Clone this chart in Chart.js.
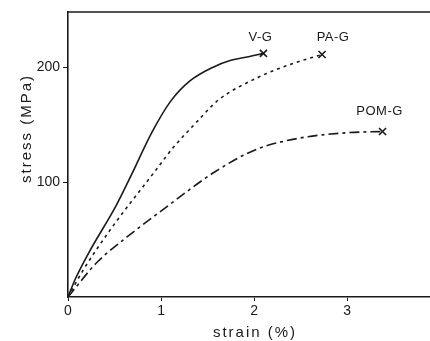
<!DOCTYPE html>
<html>
<head>
<meta charset="utf-8">
<script src="https://cdn.jsdelivr.net/npm/chart.js@4/dist/chart.umd.min.js"></script>
<style>
html,body{margin:0;padding:0;background:#fff}
#wrap{width:430px;height:341px}
</style>
</head>
<body>
<div id="wrap"><canvas id="c" width="430" height="341"></canvas></div>
<script>
// strain (%) / stress (MPa)
let vgStrain=[0,0.075,0.22,0.52,0.68,0.9,1.1,1.31,1.56,1.75,1.94,2.1]
let vgStress=[0,15,38,80,106,143,170,188,200,206,209,212]

let paStrain=[0,0.16,0.45,0.94,1.13,1.38,1.61,2.04,2.41,2.73]
let paStress=[0,23,58,110,130,152,171,191,203,211]

let pomStrain=[0,0.31,0.63,1.02,1.58,2.01,2.47,3.01,3.38]
let pomStress=[0,30,52,76,109,128,138,143,144]

let seriesNames=["V-G","PA-G","POM-G"]
let xTicks=[0,1,2,3]
let yTicks=[100,200]
let xTitle="strain (%)"
let yTitle="stress (MPa)"

let ink="#1a1a1a"
let font="'Liberation Sans', Arial, sans-serif"

function pts(xs,ys){
return xs.map((x,i)=>({x:x,y:ys[i]}))
}

function endMark(ctx){
return ctx.dataIndex===ctx.dataset.data.length-1 ? 5 : 0
}

function makeSet(name,xs,ys,dash){
return {
label:name,
data:pts(xs,ys),
borderColor:ink,
borderWidth:1.6,
borderDash:dash,
cubicInterpolationMode:"monotone",
pointStyle:"crossRot",
pointRadius:endMark,
pointHoverRadius:endMark,
pointBorderColor:ink,
pointBorderWidth:1.6,
fill:false
}
}

// label offsets (px) from each curve's end point
let labelDx=[-3,11,-3]
let labelDy=[-16,-17,-20]

let extras={
id:"extras",
// the frame runs off the right edge of the page in the scan
afterLayout(chart){
let x=chart.scales.x
x.right=chart.width
x.width=x.right-x.left
x.configure()
chart.chartArea.right=chart.width
chart.chartArea.width=chart.width-chart.chartArea.left
},
afterDatasetsDraw(chart){
let c=chart.ctx
let a=chart.chartArea
c.save()
// top frame line
c.strokeStyle=ink
c.lineWidth=1.6
c.beginPath()
c.moveTo(a.left,a.top)
c.lineTo(a.right,a.top)
c.stroke()
// curve names
c.fillStyle=ink
c.font="13px "+font
c.textAlign="center"
c.textBaseline="middle"
c.letterSpacing="0.5px"
chart.data.datasets.forEach((ds,i)=>{
let last=ds.data[ds.data.length-1]
let px=chart.scales.x.getPixelForValue(last.x)
let py=chart.scales.y.getPixelForValue(last.y)
c.fillText(seriesNames[i],px+labelDx[i],py+labelDy[i])
})
// axis titles, letter spaced like the print
c.font="15px "+font
c.letterSpacing="2px"
c.fillText(xTitle,(a.left+a.right)/2+6,333)
c.translate(27,(a.top+a.bottom)/2-26)
c.rotate(-Math.PI/2)
c.fillText(yTitle,0,0)
c.restore()
}
}

new Chart(document.getElementById("c"),{
type:"line",
data:{
datasets:[
makeSet(seriesNames[0],vgStrain,vgStress,[]),
makeSet(seriesNames[1],paStrain,paStress,[3,4]),
makeSet(seriesNames[2],pomStrain,pomStress,[10,4,3,4])
]
},
options:{
responsive:false,
animation:false,
devicePixelRatio:1,
layout:{padding:{top:12,right:0,left:0,bottom:0}},
plugins:{legend:{display:false},tooltip:{enabled:false}},
scales:{
x:{
type:"linear",
min:0,max:3.89,
afterFit(s){s.height=44},
afterBuildTicks(s){s.ticks=xTicks.map(v=>({value:v}))},
ticks:{color:ink,font:{family:font,size:14},padding:2,maxRotation:0},
grid:{display:true,drawOnChartArea:false,tickLength:4,color:ink,lineWidth:1},
border:{display:true,color:ink,width:1.6}
},
y:{
type:"linear",
min:0,max:248,
afterFit(s){s.width=68},
afterBuildTicks(s){s.ticks=yTicks.map(v=>({value:v}))},
ticks:{color:ink,font:{family:font,size:14},padding:3},
grid:{display:true,drawOnChartArea:false,tickLength:5,color:ink,lineWidth:1},
border:{display:true,color:ink,width:1.6}
}
}
},
plugins:[extras]
})
</script>
</body>
</html>
